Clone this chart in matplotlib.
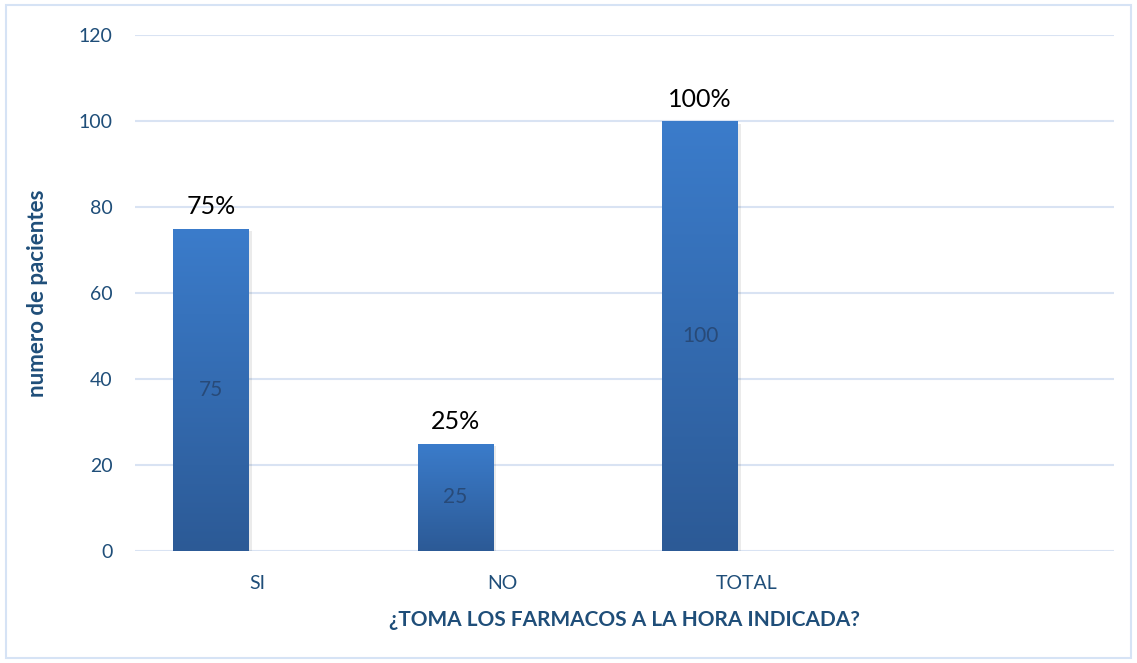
import numpy as np
import matplotlib.pyplot as plt
from matplotlib.patches import Rectangle
from matplotlib.colors import LinearSegmentedColormap

# Datos del grafico
categorias = ['SI', 'NO', 'TOTAL', '']
pacientes = [75, 25, 100]
porcentajes = ['75%', '25%', '100%']

plt.rcParams['font.family'] = ['Lato', 'DejaVu Sans']

azul_texto = '#1F4E79'
grid_color = '#D9E3F3'
cmap = LinearSegmentedColormap.from_list('barra', ['#2C5A96', '#3B7CCB'])

fig = plt.figure(figsize=(11.37, 6.63), dpi=100)
ax = fig.add_axes([0.1187, 0.1689, 0.8607, 0.7783])

x = np.arange(len(categorias))
offset = -0.19
width = 0.31

gradient = np.linspace(0, 1, 256).reshape(-1, 1)
for i, v in enumerate(pacientes):
    x0 = x[i] + offset - width / 2
    # sombra suave
    ax.add_patch(Rectangle((x0 + 0.012, -0.6), width, v, facecolor='#000000',
                           alpha=0.08, edgecolor='none', zorder=2))
    bar = ax.bar(x[i] + offset, v, width=width, color='none', zorder=3)[0]
    im = ax.imshow(gradient, cmap=cmap, aspect='auto', origin='lower',
                   extent=[x0, x0 + width, 0, v], zorder=3)
    im.set_clip_path(bar)
    ax.text(x[i] + offset, v / 2, str(v), ha='center', va='center',
            fontsize=15, color='#284A78', zorder=4)
    ax.text(x[i] + offset, v + 2.4, porcentajes[i], ha='center', va='bottom',
            fontsize=18, color='black', zorder=4)

ax.set_xlim(-0.5, len(categorias) - 0.5)
ax.set_ylim(0, 120)
ax.set_yticks(np.arange(0, 121, 20))
ax.set_xticks(x)
ax.set_xticklabels(categorias)
ax.grid(axis='y', color=grid_color, linewidth=1.5, zorder=0)
ax.set_axisbelow(True)
for s in ax.spines.values():
    s.set_visible(False)
ax.tick_params(axis='both', length=0, labelsize=14, colors=azul_texto)
ax.tick_params(axis='y', pad=16)
ax.tick_params(axis='x', pad=17)

ax.set_ylabel('numero de pacientes', fontsize=16, fontweight='bold',
              color=azul_texto, labelpad=22)
ax.set_xlabel('¿TOMA LOS FARMACOS A LA HORA INDICADA?', fontsize=15,
              fontweight='bold', color=azul_texto, labelpad=13)

fig.patches.append(Rectangle((6 / 1137, 5 / 663), 1 - 12 / 1137, 1 - 10 / 663,
                             transform=fig.transFigure, fill=False,
                             edgecolor='#D6E3F5', linewidth=1.5))

fig.savefig('out.png', dpi=100)
